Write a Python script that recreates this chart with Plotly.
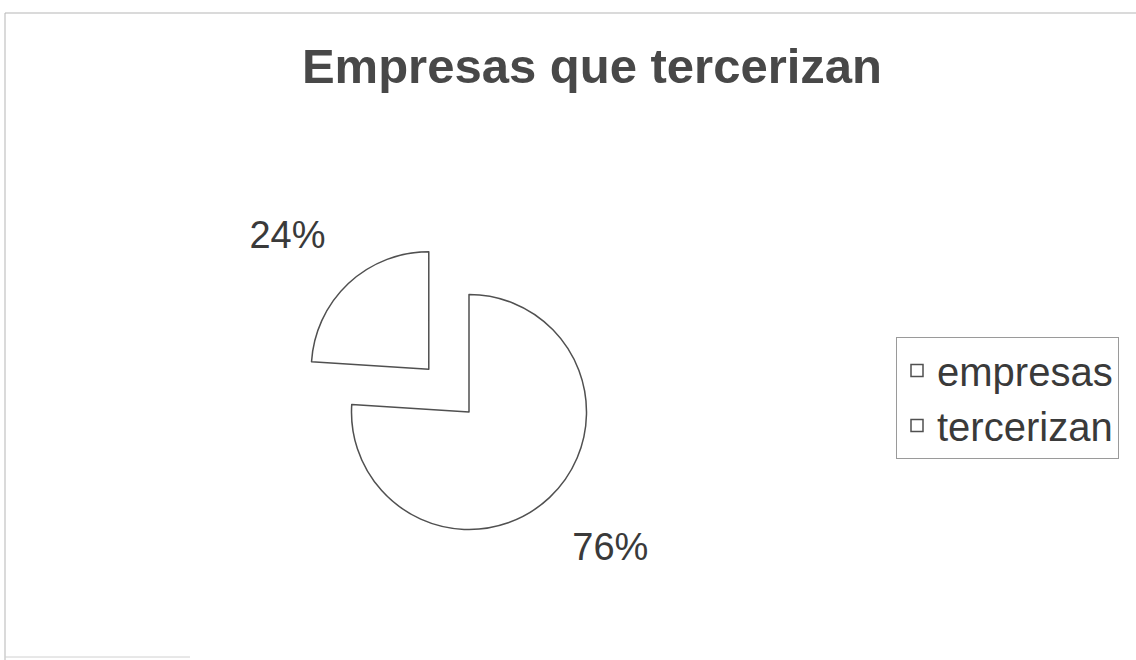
import plotly.graph_objects as go

# Data
categories = ["empresas", "tercerizan"]
values = [76, 24]
pulls = [0, 0.5]
title_text = "Empresas que tercerizan"
label_templates = ["&nbsp;<br>%{percent:.0%}", "%{percent:.0%}<br>&nbsp;"]

W, H = 1136, 660
FONT = "Liberation Sans, Arial, sans-serif"

fig = go.Figure()
fig.add_trace(go.Pie(
    labels=categories,
    values=values,
    pull=pulls,
    sort=False,
    direction="clockwise",
    rotation=0,
    texttemplate=label_templates,
    textposition="outside",
    outsidetextfont=dict(family=FONT, size=38, color="#3a3a3a"),
    marker=dict(colors=["#ffffff", "#ffffff"], line=dict(color="#505050", width=1.5)),
    domain=dict(x=[(469 - 176.25) / W, (469 + 176.25) / W],
                y=[1 - 588.25 / H, 1 - 235.75 / H]),
    hoverinfo="label+percent",
    automargin=False,
))

border = dict(color="#b5b5b5", width=1)
fig.update_layout(
    width=W, height=H,
    margin=dict(l=0, r=0, t=0, b=0),
    paper_bgcolor="#ffffff",
    plot_bgcolor="#ffffff",
    title=dict(text="<b>" + title_text + "</b>", x=592 / W, xanchor="center",
               y=1 - 65.5 / H, yanchor="middle",
               font=dict(family=FONT, size=49, color="#484848")),
    showlegend=True,
    legend=dict(x=896 / W, xanchor="left", y=1 - 337 / H, yanchor="top",
                bordercolor="#9a9a9a", borderwidth=1, bgcolor="#ffffff",
                font=dict(family=FONT, size=40, color="#3a3a3a"),
                traceorder="normal", entrywidth=250, entrywidthmode="pixels"),
    shapes=[
        dict(type="line", xref="paper", yref="paper", x0=5 / W, x1=1, y0=1 - 13 / H, y1=1 - 13 / H,
             line=border, layer="below"),
        dict(type="line", xref="paper", yref="paper", x0=5 / W, x1=5 / W, y0=0, y1=1 - 13 / H,
             line=border, layer="below"),
        dict(type="line", xref="paper", yref="paper", x0=5 / W, x1=190 / W, y0=1 - 657 / H, y1=1 - 657 / H,
             line=dict(color="#d0d0d0", width=1), layer="below"),
    ],
)

fig.write_html("out.html", config={"displayModeBar": False},
               post_script="document.body.style.margin='0';")
